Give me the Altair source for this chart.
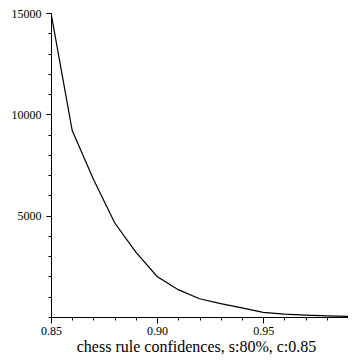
import altair as alt
import pandas as pd

confidence = [0.85, 0.86, 0.87, 0.88, 0.89, 0.90, 0.91, 0.92, 0.93, 0.94, 0.95, 0.96, 0.97, 0.98, 0.99]
rule_count = [15000, 9200, 6800, 4650, 3200, 2000, 1350, 900, 660, 450, 230, 140, 90, 60, 30]

x_ticks = [0.85, 0.86, 0.87, 0.88, 0.89, 0.90, 0.91, 0.92, 0.93, 0.94, 0.95, 0.96, 0.97, 0.98, 0.99]
y_ticks = list(range(0, 15001, 1000))

df = pd.DataFrame({"conf": confidence, "count": rule_count})

font = "Liberation Serif"
x_major = "abs(datum.value*20 - round(datum.value*20)) < 0.001"
y_major = "datum.value % 5000 === 0 && datum.value > 0"

chart = (
    alt.Chart(df)
    .mark_line(color="black", strokeWidth=1.2, clip=True)
    .encode(
        x=alt.X(
            "conf:Q",
            scale=alt.Scale(domain=[0.85, 0.99], nice=False, zero=False),
            axis=alt.Axis(
                values=x_ticks,
                title="chess rule confidences, s:80%, c:0.85",
                titleFontSize=16,
                titleFontWeight="normal",
                titleColor="black",
                titleBaseline="alphabetic",
                titleY=34,
                titleX=145,
                labelExpr=f"({x_major}) ? format(datum.value, '.2f') : ''",
                labelFontSize=12,
                labelColor="black",
                labelFlush=False,
                labelOverlap=False,
                labelPadding=2,
                tickSize={"condition": {"test": x_major, "value": 6}, "value": 3},
                tickColor="black",
                domainColor="black",
                grid=False,
            ),
        ),
        y=alt.Y(
            "count:Q",
            scale=alt.Scale(domain=[0, 15000], nice=False),
            axis=alt.Axis(
                values=y_ticks,
                title=None,
                labelExpr=f"({y_major}) ? format(datum.value, 'd') : ''",
                labelFontSize=12,
                labelColor="black",
                labelFlush=False,
                labelOverlap=False,
                labelPadding=5,
                tickSize={"condition": {"test": y_major, "value": 5}, "value": 3},
                tickColor="black",
                domainColor="black",
                grid=False,
            ),
        ),
    )
    .properties(
        width=297,
        height=304,
        autosize=alt.AutoSizeParams(type="none"),
        padding={"left": 43, "top": 5, "right": 0, "bottom": 38},
    )
    .configure(font=font)
    .configure_axis(labelFont=font, titleFont=font)
    .configure_view(stroke=None)
)

chart.save("out.html", embed_options={"renderer": "svg", "actions": False})
